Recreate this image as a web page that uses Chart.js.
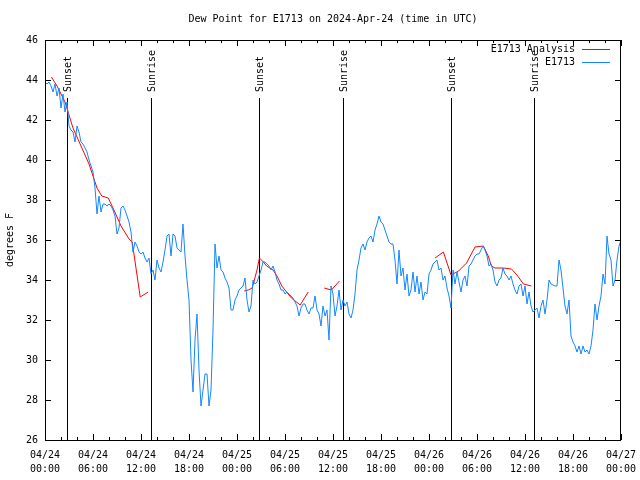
<!DOCTYPE html>
<html>
<head>
<meta charset="utf-8">
<script src="https://cdn.jsdelivr.net/npm/chart.js@4.4.1/dist/chart.umd.min.js"></script>
<style>
html, body { margin: 0; padding: 0; background: #fff; }
</style>
</head>
<body>
<canvas id="myChart" width="640" height="480"></canvas>
<script>
const chartTitle = "Dew Point for E1713 on 2024-Apr-24 (time in UTC)";
const yTitle = "degrees F";

// x is hours since 04/24 00:00 UTC
const tickHours = [0, 6, 12, 18, 24, 30, 36, 42, 48, 54, 60, 66, 72];
const tickDates = ["04/24", "04/24", "04/24", "04/24", "04/25", "04/25", "04/25", "04/25", "04/26", "04/26", "04/26", "04/26", "04/27"];
const tickTimes = ["00:00", "06:00", "12:00", "18:00", "00:00", "06:00", "12:00", "18:00", "00:00", "06:00", "12:00", "18:00", "00:00"];

const sunsetHours = [2.78, 26.78, 50.78];
const sunriseHours = [13.28, 37.28, 61.17];

// E1713 observations, one every 15 minutes from 00:00
const obsStepHours = 0.25;
const obsValues = [
  43.9, 43.8, 43.9, 43.7,  43.4, 43.8, 43.2, 43.6,  42.6, 43.3, 42.4, 42.9,
  41.7, 41.5, 41.4, 40.9,  41.7, 41.4, 40.9, 40.8,  40.6, 40.4, 40.0, 39.7,
  39.4, 38.6, 37.3, 38.2,  37.4, 37.8, 37.8, 37.7,  37.8, 37.7, 37.5, 37.2,
  36.3, 36.6, 37.6, 37.7,  37.5, 37.2, 36.9, 36.4,  35.4, 35.9, 35.7, 35.4,
  35.3, 35.4, 35.1, 34.9,  35.1, 34.3, 34.5, 34.0,  35.0, 34.6, 34.4, 34.9,
  35.5, 36.2, 36.3, 35.2,  36.3, 36.2, 35.6, 35.5,  35.4, 36.8, 35.2, 34.0,
  33.0, 30.0, 28.4, 31.0,  32.3, 29.5, 27.7, 28.5,  29.3, 29.3, 27.7, 28.5,
  31.5, 35.8, 34.6, 35.2,  34.5, 34.4, 34.1, 33.9,  33.6, 32.5, 32.5, 33.0,
  33.2, 33.5, 33.6, 33.7,  34.1, 33.0, 32.4, 32.7,  34.0, 33.8, 33.9, 34.2,
  34.5, 34.9, 34.9, 34.8,  34.7, 34.5, 34.7, 34.4,  34.0, 33.8, 33.5, 33.5,
  33.3, 33.4, 33.3, 33.2,  33.1, 32.9, 32.7, 32.2,  32.6, 32.8, 32.8, 32.5,
  32.3, 32.6, 32.6, 33.2,  32.5, 32.3, 31.7, 32.7,  32.2, 32.5, 31.0, 33.7,
  33.3, 32.2, 32.7, 33.5,  32.5, 33.0, 32.7, 32.9,  32.3, 32.1, 32.5, 33.3,
  34.5, 35.0, 35.6, 35.8,  35.5, 35.9, 36.1, 36.2,  35.9, 36.5, 36.8, 37.2,
  36.9, 36.8, 36.5, 36.2,  35.9, 35.8, 35.8, 35.0,  33.8, 35.5, 34.2, 34.6,
  33.5, 34.3, 33.2, 33.5,  34.4, 33.4, 34.2, 33.3,  33.9, 33.0, 33.4, 33.3,
  34.3, 34.5, 34.8, 34.9,  35.0, 34.5, 34.6, 34.0,  34.2, 33.6, 33.2, 32.6,
  34.5, 33.8, 34.4, 33.9,  33.4, 34.0, 34.2, 33.7,  34.7, 34.8, 35.0, 35.2,
  35.3, 35.3, 35.5, 35.7,  35.5, 35.2, 34.7, 34.8,  34.5, 33.9, 33.7, 34.0,
  34.1, 34.6, 34.3, 34.2,  34.0, 34.2, 33.8, 33.5,  33.3, 33.7, 33.8, 33.2,
  33.7, 32.8, 33.4, 32.7,  32.4, 32.5, 32.6, 32.1,  32.7, 33.0, 32.3, 33.0,
  34.0, 33.8, 33.75, 33.7, 33.7, 35.0, 34.5, 33.6,  32.7, 32.3, 33.0, 31.2,
  30.9, 30.7, 30.4, 30.7,  30.3, 30.7, 30.4, 30.5,  30.3, 30.7, 31.5, 32.8,
  32.0, 32.7, 33.2, 34.3,  33.8, 36.2, 35.3, 35.0,  33.7, 34.0, 35.0, 35.7,
  36.0
];

// E1713 Analysis, null = gap
const analysisHours = [
  0.8, 1.5, 2.5, 3.5, 4.5, 5.5, 6.5, 7.1, 7.9, 8.5, 9.5, 10.5, 10.9, 11.9, 12.9,
  18,
  24.9, 25.4, 25.9, 26.5, 26.8, 27.3, 27.7, 28.5, 29.0, 29.6, 30.8, 31.9, 32.9,
  34,
  34.9, 35.8, 36.8,
  42,
  48.75, 49.8, 50.75, 51.7, 52.7, 53.75, 54.8, 55.4, 55.8, 56.25, 57.3, 58.3, 59.0, 59.8, 60.8
];
const analysisValues = [
  44.15, 43.7, 42.9, 41.6, 40.7, 39.8, 38.6, 38.2, 38.1, 37.6, 36.7, 36.05, 35.9, 33.15, 33.4,
  null,
  33.45, 33.5, 33.6, 34.5, 35.1, 34.9, 34.7, 34.5, 34.2, 33.7, 33.1, 32.75, 33.4,
  null,
  33.6, 33.5, 33.95,
  null,
  35.1, 35.4, 34.25, 34.45, 34.85, 35.65, 35.7, 35.2, 34.7, 34.6, 34.6, 34.55, 34.25, 33.8, 33.7
];

const monoFont = "'DejaVu Sans Mono', 'Liberation Mono', monospace";

var gnuplotDecor = {
  id: "gnuplotDecor",
  beforeDatasetsDraw: function(chart) {
    const ctx = chart.ctx;
    const xs = chart.scales.x, ys = chart.scales.y;
    ctx.save();
    ctx.strokeStyle = "#000";
    ctx.lineWidth = 1;
    ctx.fillStyle = "#000";
    ctx.font = "10px " + monoFont;
    const marks = sunsetHours.map(h => [h, "Sunset"]).concat(sunriseHours.map(h => [h, "Sunrise"]));
    marks.forEach(function(m) {
      const px = Math.round(xs.getPixelForValue(m[0])) + 0.5;
      ctx.beginPath();
      ctx.moveTo(px, ys.getPixelForValue(43.1));
      ctx.lineTo(px, ys.getPixelForValue(26));
      ctx.stroke();
      ctx.save();
      ctx.translate(px + 1, ys.getPixelForValue(43.4));
      ctx.rotate(-Math.PI / 2);
      ctx.textAlign = "left";
      ctx.textBaseline = "middle";
      ctx.fillText(m[1], 0, 0);
      ctx.restore();
    });
    ctx.restore();
  },
  afterDraw: function(chart) {
    const ctx = chart.ctx;
    const area = chart.chartArea;
    const xs = chart.scales.x, ys = chart.scales.y;
    ctx.save();
    ctx.strokeStyle = "#000";
    ctx.lineWidth = 1;

    // inward tick marks on all four sides
    ctx.beginPath();
    for (let h = 0; h <= 72; h += 2) {
      const px = Math.round(xs.getPixelForValue(h)) + 0.5;
      const len = (h % 6 === 0) ? 6 : 3;
      ctx.moveTo(px, area.bottom);
      ctx.lineTo(px, area.bottom - len);
      ctx.moveTo(px, area.top);
      ctx.lineTo(px, area.top + len);
    }
    for (let v = 26; v <= 46; v += 2) {
      const py = Math.round(ys.getPixelForValue(v)) + 0.5;
      ctx.moveTo(area.left, py);
      ctx.lineTo(area.left + 6, py);
      ctx.moveTo(area.right, py);
      ctx.lineTo(area.right - 6, py);
    }
    ctx.stroke();

    ctx.strokeRect(area.left + 0.5, area.top + 0.5, area.right - area.left - 1, area.bottom - area.top);

    ctx.fillStyle = "#000";
    ctx.font = "10px " + monoFont;
    ctx.textBaseline = "middle";
    ctx.textAlign = "center";
    ctx.fillText(chartTitle, (area.left + area.right) / 2, 19);

    // legend, top right
    const legendItems = [["E1713 Analysis", "#ff0000"], ["E1713", "#1486ff"]];
    legendItems.forEach(function(item, i) {
      const ly = 49.5 + i * 13;
      ctx.textAlign = "right";
      ctx.fillText(item[0], 575, ly);
      ctx.strokeStyle = item[1];
      ctx.beginPath();
      ctx.moveTo(582, ly);
      ctx.lineTo(610, ly);
      ctx.stroke();
    });
    ctx.restore();
  }
};

const ctx = document.getElementById("myChart").getContext("2d");
const chart = new Chart(ctx, {
  type: "line",
  data: {
    datasets: [
      {
        label: "E1713",
        data: obsValues.map((v, i) => ({ x: i * obsStepHours, y: v })),
        borderColor: "#1486ff",
        borderWidth: 1,
        pointRadius: 0,
        tension: 0,
        order: 0
      },
      {
        label: "E1713 Analysis",
        data: analysisHours.map((h, i) => ({ x: h, y: analysisValues[i] })),
        borderColor: "#ff0000",
        borderWidth: 1,
        pointRadius: 0,
        tension: 0,
        spanGaps: false,
        order: 1
      }
    ]
  },
  options: {
    responsive: false,
    animation: false,
    devicePixelRatio: 1,
    layout: { padding: { top: 40, right: 19, left: 0, bottom: 0 } },
    plugins: {
      legend: { display: false },
      tooltip: { enabled: false },
      title: { display: false }
    },
    scales: {
      x: {
        type: "linear",
        min: 0,
        max: 72,
        grid: { display: false, drawTicks: false },
        border: { display: false },
        afterBuildTicks: function(scale) {
          scale.ticks = tickHours.map(h => ({ value: h }));
        },
        afterFit: function(scale) {
          scale.height = 40;
          scale.paddingLeft = 0;
          scale.paddingRight = 0;
        },
        ticks: {
          autoSkip: false,
          maxRotation: 0,
          padding: 8,
          color: "#000",
          font: { family: monoFont, size: 10, lineHeight: 1.4 },
          callback: function(value) {
            const i = tickHours.indexOf(value);
            return i >= 0 ? [tickDates[i], tickTimes[i]] : "";
          }
        }
      },
      y: {
        min: 26,
        max: 46,
        grid: { display: false, drawTicks: false },
        border: { display: false },
        afterFit: function(scale) {
          scale.width = 45;
          scale.paddingTop = 0;
          scale.paddingBottom = 0;
        },
        ticks: {
          stepSize: 2,
          padding: 7,
          color: "#000",
          font: { family: monoFont, size: 10 }
        },
        title: {
          display: true,
          text: yTitle,
          color: "#000",
          font: { family: monoFont, size: 10 },
          padding: { top: 4, bottom: 0 }
        }
      }
    }
  },
  plugins: [gnuplotDecor]
});
</script>
</body>
</html>
